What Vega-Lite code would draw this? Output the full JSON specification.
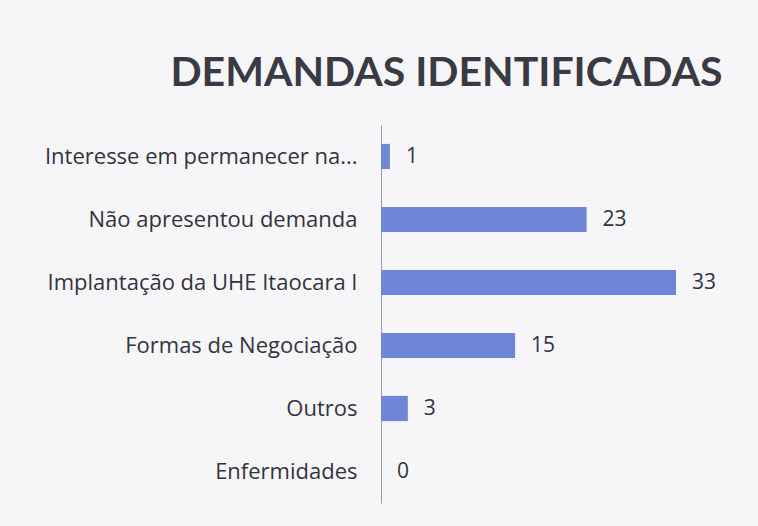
{
  "$schema": "https://vega.github.io/schema/vega-lite/v6.json",
  "width": 295,
  "height": 378,
  "autosize": {"type": "none"},
  "padding": {"left": 381, "top": 125, "right": 82, "bottom": 23},
  "background": "#f6f6f8",
  "config": {"view": {"stroke": null}, "font": "Open Sans"},
  "title": {
    "text": "DEMANDAS IDENTIFICADAS",
    "font": "Lato",
    "fontSize": 41,
    "fontWeight": "bold",
    "color": "#3a3a44",
    "anchor": "middle",
    "dx": -82,
    "offset": -2,
    "baseline": "alphabetic"
  },
  "data": {
    "values": [
      {"categoria": "Interesse em permanecer na...", "valor": 1},
      {"categoria": "Não apresentou demanda", "valor": 23},
      {"categoria": "Implantação da UHE Itaocara I", "valor": 33},
      {"categoria": "Formas de Negociação", "valor": 15},
      {"categoria": "Outros", "valor": 3},
      {"categoria": "Enfermidades", "valor": 0}
    ]
  },
  "encoding": {
    "y": {
      "field": "categoria",
      "type": "nominal",
      "sort": null,
      "scale": {"paddingInner": 0.6, "paddingOuter": 0.3},
      "axis": {
        "title": null,
        "ticks": false,
        "labelPadding": 24,
        "labelFontSize": 22,
        "labelColor": "#333340",
        "labelFont": "Open Sans",
        "labelLimit": 400,
        "domainColor": "#9a9aa8",
        "domainWidth": 1
      }
    },
    "x": {
      "field": "valor",
      "type": "quantitative",
      "scale": {"domain": [0, 33], "nice": false},
      "axis": null
    }
  },
  "layer": [
    {"mark": {"type": "bar", "color": "#6f85d6"}},
    {
      "mark": {"type": "text", "align": "left", "dx": 16, "fontSize": 21, "color": "#333340", "font": "Open Sans"},
      "encoding": {"text": {"field": "valor", "type": "quantitative"}}
    }
  ]
}
